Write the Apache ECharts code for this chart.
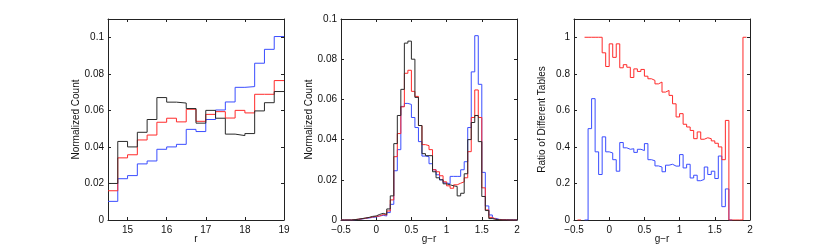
<!DOCTYPE html>
<html><head><meta charset="utf-8">
<script src="https://cdn.jsdelivr.net/npm/echarts@6/dist/echarts.min.js"></script>
<style>html,body{margin:0;padding:0;background:#fff}#c{width:830px;height:248px}</style>
</head><body><div id="c"></div>
<script>
// ---------- data ----------
// Panel 1: r magnitude histogram, bins of 0.25 starting at 14.5
const rStart = 14.5, rWidth = 0.25;
const rBlack = [0.020,0.043,0.040,0.048,0.055,0.067,0.0645,0.064,0.061,0.053,0.060,0.0557,0.047,0.0462,0.0473,0.0597,0.0642,0.0703];
const rRed   = [0.016,0.034,0.0357,0.0438,0.0465,0.0535,0.0557,0.0537,0.0606,0.054,0.0578,0.0593,0.0558,0.060,0.0586,0.0688,0.0688,0.0763];
const rBlue  = [0.0102,0.0226,0.0243,0.0307,0.0323,0.0387,0.040,0.0414,0.0496,0.0484,0.055,0.0602,0.0646,0.0726,0.073,0.0858,0.0934,0.1004];

// Panel 2: g-r colour histogram, bins of 0.05 starting at -0.5
const gStart = -0.5, gWidth = 0.05;
const gBlack = [0,0,0,0.0002,0.0004,0.0007,0.001,0.0013,0.0018,0.002,
  0.0028,0.0033,0.0028,0.0055,0.012,0.038,0.052,0.065,0.088,0.089,
  0.080,0.061,0.047,0.033,0.032,0.032,0.024,0.021,0.020,0.018,
  0.0175,0.017,0.0167,0.012,0.0133,0.023,0.040,0.0485,0.052,0.039,
  0.0117,0.0047,0.0007,0.0003,0.0001,0,0,0,0,0];
const gRed = [0,0,0,0.0002,0.0004,0.0006,0.0009,0.0012,0.0015,0.0018,
  0.002,0.0027,0.0025,0.0045,0.010,0.0315,0.043,0.0563,0.073,0.0745,
  0.064,0.0615,0.047,0.0375,0.037,0.035,0.025,0.024,0.022,0.019,
  0.017,0.0158,0.0175,0.0183,0.019,0.021,0.034,0.051,0.0647,0.051,
  0.016,0.005,0.0013,0.0004,0.0002,0.0001,0.0001,0,0,0];
const gBlue = [0,0,0,0.0001,0.0003,0.0005,0.0008,0.001,0.0013,0.0015,
  0.002,0.0023,0.002,0.0037,0.0078,0.0245,0.035,0.0565,0.058,0.0575,
  0.051,0.046,0.039,0.0318,0.0315,0.028,0.025,0.0225,0.020,0.0185,
  0.018,0.0217,0.0217,0.0217,0.025,0.029,0.046,0.0737,0.0917,0.0675,
  0.0237,0.007,0.0025,0.0008,0.0003,0.0002,0.0002,0.0001,0.0001,0];

// Panel 3: ratio of different tables, bins of 0.05 starting at -0.5
const ratioRed = [null,0,null,1,1,1,1,1,0.915,0.84,
  0.964,0.89,0.964,0.833,0.85,0.836,0.78,0.827,0.813,0.824,
  0.787,0.773,0.764,0.745,0.755,0.70,0.709,0.682,0.636,0.564,
  0.582,0.524,0.509,0.49,0.445,0.482,0.442,0.45,0.445,0.433,
  0.42,0.40,0.33,0.545,0,0,0,0,1,null];
const ratioBlue = [null,null,null,0,0.5,0.664,0.373,0.249,0.455,0.373,
  0.367,0.33,0.267,0.424,0.395,0.387,0.39,0.37,0.387,0.38,
  0.418,0.33,0.324,0.296,0.29,0.264,0.30,0.305,0.295,0.295,
  0.358,0.285,0.305,0.23,0.245,0.215,0.222,0.29,0.249,0.267,
  0.227,0.35,0.073,0.17,0,null,null,null,null,null];

// tick labels
const rTicks = [15,16,17,18,19];
const gTicks = [-0.5,0,0.5,1,1.5,2];
const countTicks = [0,0.02,0.04,0.06,0.08,0.1];
const ratioTicks = [0,0.2,0.4,0.6,0.8,1];

// ---------- helpers ----------
function stairs(start, w, vals){
  const pts = [];
  for (let i=0;i<vals.length;i++){
    const x = +(start + i*w).toFixed(6), v = vals[i];
    if (v === null){ pts.push([x, null]); continue; }
    pts.push([x, v]);
    if (i === vals.length-1 || vals[i+1] === null) pts.push([+(x+w).toFixed(6), v]);
  }
  return pts;
}
const FONT = 'Liberation Sans, Arial, Helvetica, sans-serif';
const fmt = v => (v < 0 ? '\u2212' + Math.abs(v) : String(v));
const AX = '#222';
const lefts = [108, 341, 574];
const grids = lefts.map(l => ({left:l, top:19, width:176, height:201, containLabel:false, outerBoundsMode:'none'}));

const xDefs = [
  {min:14.5, max:19, ticks:rTicks, name:'r'},
  {min:-0.5, max:2, ticks:gTicks, name:'g\u2212r'},
  {min:-0.5, max:2, ticks:gTicks, name:'g\u2212r'}
];
const yDefs = [
  {min:0, max:0.11, ticks:countTicks, name:'Normalized Count'},
  {min:0, max:0.1, ticks:countTicks, name:'Normalized Count'},
  {min:0, max:1.1, ticks:ratioTicks, name:'Ratio of Different Tables'}
];

const xAxes = [], yAxes = [];
xDefs.forEach((d,i) => {
  xAxes.push({type:'value', gridIndex:i, position:'bottom', min:d.min, max:d.max,
    name:d.name, nameLocation:'middle', nameGap:14, nameMoveOverlap:false,
    nameTextStyle:{fontFamily:FONT, fontSize:10, color:'#111'},
    axisLine:{show:true, onZero:false, lineStyle:{color:AX, width:1}},
    axisTick:{show:true, inside:true, length:3, customValues:d.ticks, lineStyle:{color:AX}},
    axisLabel:{show:true, customValues:d.ticks, formatter:fmt, margin:5, fontFamily:FONT, fontSize:10, color:'#111'},
    splitLine:{show:false}});
  xAxes.push({type:'value', gridIndex:i, position:'top', min:d.min, max:d.max,
    axisLine:{show:true, onZero:false, lineStyle:{color:AX, width:1}},
    axisTick:{show:true, inside:true, length:3, customValues:d.ticks, lineStyle:{color:AX}},
    axisLabel:{show:false}, splitLine:{show:false}});
});
yDefs.forEach((d,i) => {
  yAxes.push({type:'value', gridIndex:i, position:'left', min:d.min, max:d.max,
    name:d.name, nameLocation:'middle', nameGap:27, nameRotate:90, nameMoveOverlap:false,
    nameTextStyle:{fontFamily:FONT, fontSize:10, color:'#111'},
    axisLine:{show:true, onZero:false, lineStyle:{color:AX, width:1}},
    axisTick:{show:true, inside:true, length:3, customValues:d.ticks, lineStyle:{color:AX}},
    axisLabel:{show:true, customValues:d.ticks, formatter:fmt, margin:4, fontFamily:FONT, fontSize:10, color:'#111'},
    splitLine:{show:false}});
  yAxes.push({type:'value', gridIndex:i, position:'right', min:d.min, max:d.max,
    axisLine:{show:true, onZero:false, lineStyle:{color:AX, width:1}},
    axisTick:{show:true, inside:true, length:3, customValues:d.ticks, lineStyle:{color:AX}},
    axisLabel:{show:false}, splitLine:{show:false}});
});

const RED = '#ff2a2a', BLUE = '#3a4dff', BLACK = '#2a2a2a';
function ser(panel, data, color){
  return {type:'line', step:'end', xAxisIndex:panel*2, yAxisIndex:panel*2,
    data:data, showSymbol:false, symbol:'none', connectNulls:false, clip:true,
    lineStyle:{color:color, width:1}, silent:true};
}
const series = [
  ser(0, stairs(rStart, rWidth, rBlue), BLUE),
  ser(0, stairs(rStart, rWidth, rRed), RED),
  ser(0, stairs(rStart, rWidth, rBlack), BLACK),
  ser(1, stairs(gStart, gWidth, gBlue), BLUE),
  ser(1, stairs(gStart, gWidth, gRed), RED),
  ser(1, stairs(gStart, gWidth, gBlack), BLACK),
  ser(2, stairs(gStart, gWidth, ratioBlue), BLUE),
  ser(2, stairs(gStart, gWidth, ratioRed), RED)
];

const chart = echarts.init(document.getElementById('c'), null, {renderer:'canvas'});
chart.setOption({animation:false, backgroundColor:'#fff', grid:grids, xAxis:xAxes, yAxis:yAxes, series:series});
</script></body></html>
